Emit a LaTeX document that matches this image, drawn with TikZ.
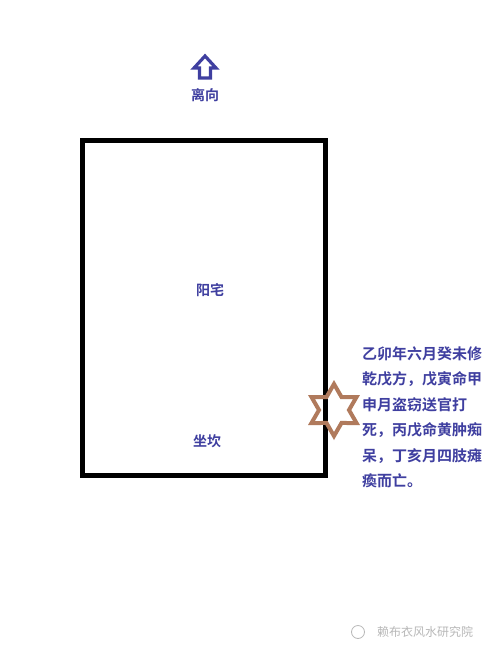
\documentclass[tikz,border=0pt]{standalone}
\usepackage{fontspec}
\usetikzlibrary{calc}
\newfontfamily\cjk{Noto Sans CJK SC}
\newfontfamily\cjkb{Noto Sans CJK SC Bold}
\definecolor{txtblue}{HTML}{3F3FA0}
\definecolor{starbrown}{HTML}{B07A5C}
\definecolor{wmgrey}{HTML}{B8B8B8}
\begin{document}
\begin{tikzpicture}[x=1pt,y=-1pt,
  lbl/.style={text=txtblue,font=\cjkb\fontsize{14}{16}\selectfont,inner sep=0pt},
  note/.style={text=txtblue,font=\cjkb\fontsize{15}{25.5}\selectfont,align=left,inner sep=0pt,anchor=north west}]
\useasboundingbox (0,0) rectangle (490,654);
\fill[white] (0,0) rectangle (490,654);
% house
\draw[line width=5pt] (82.5,140.5) rectangle (325.5,475.5);
% arrow
\draw[txtblue,line width=3.2pt,line join=miter]
  (205,56) -- (216,68) -- (210.5,68) -- (210.5,78) -- (199.5,78) -- (199.5,68) -- (194,68) -- cycle;
\node[lbl] (li) at (205,95) {离向};
\node[lbl] (yz) at (210,290) {阳宅};
\node[lbl] (zk) at (207,441) {坐坎};
% star (outline of hexagram)
\coordinate (sc) at (334,410);
\draw[starbrown,line width=4pt,line join=miter]
  ($(sc)+(90:26)$) -- ($(sc)+(120:15)$) -- ($(sc)+(150:26)$) -- ($(sc)+(180:15)$)
  -- ($(sc)+(210:26)$) -- ($(sc)+(240:15)$) -- ($(sc)+(270:26)$) -- ($(sc)+(300:15)$)
  -- ($(sc)+(330:26)$) -- ($(sc)+(0:15)$) -- ($(sc)+(30:26)$) -- ($(sc)+(60:15)$) -- cycle;
\node[note] (txt) at (362,346) {乙卯年六月癸未修\\乾戊方，戊寅命甲\\申月盗窃送官打\\死，丙戊命黄肿痴\\呆，丁亥月四肢瘫\\瘓而亡。};
% watermark
\node[draw=wmgrey,circle,line width=0.8pt,minimum size=13pt,inner sep=0pt] (logo) at (358,632) {};
\node[text=wmgrey,font=\cjk\fontsize{12}{14}\selectfont,anchor=west,inner sep=0pt] (wm) at (377,632) {赖布衣风水研究院};
\end{tikzpicture}
\end{document}
